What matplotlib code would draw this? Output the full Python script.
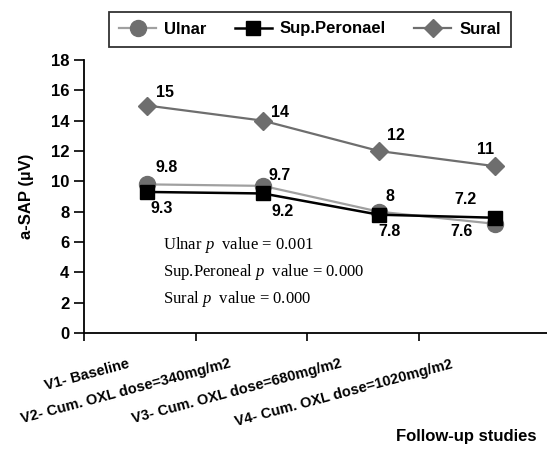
import numpy as np
import matplotlib.pyplot as plt

# data
visits = ['V1- Baseline', 'V2- Cum. OXL dose=340mg/m2',
          'V3- Cum. OXL dose=680mg/m2', 'V4- Cum. OXL dose=1020mg/m2']
ulnar = [9.8, 9.7, 8, 7.2]
sup_peronael = [9.3, 9.2, 7.8, 7.6]
sural = [15, 14, 12, 11]

# label offsets in pixels (dx, dy)
ulnar_off = [(20, 17), (17, 10), (11, 15), (-29, 24)]
sup_off = [(15, -17), (20, -18), (11, -17), (-33, -14)]
sural_off = [(18, 13), (17, 8), (17, 15), (-9, 17)]
# where the rotated tick labels end (data units)
label_pos = [-0.15, 0.72, 1.68, 2.63]

plt.rcParams['font.family'] = ['Liberation Sans', 'DejaVu Sans']
plt.rcParams['mathtext.fontset'] = 'custom'
plt.rcParams['mathtext.it'] = 'Liberation Serif:italic'
plt.rcParams['mathtext.rm'] = 'Liberation Serif'

fig = plt.figure(figsize=(5.47, 4.5), dpi=100)
ax = fig.add_axes([84/547, 1-333/450, 1-84/547, (333-60)/450])

x = np.arange(len(visits))
l1, = ax.plot(x, ulnar, color='#a0a0a0', lw=1.6, marker='o', ms=11.5,
              mfc='#6e6e6e', mec='#6e6e6e', zorder=3)
l2, = ax.plot(x, sup_peronael, color='black', lw=1.8, marker='s', ms=10.5,
              zorder=4)
l3, = ax.plot(x, sural, color='#6e6e6e', lw=1.6, marker='D', ms=9.5,
              mfc='#6e6e6e', mec='#6e6e6e', zorder=3)

for vals, offs in [(ulnar, ulnar_off), (sup_peronael, sup_off), (sural, sural_off)]:
    for xi, v, (dx, dy) in zip(x, vals, offs):
        ax.annotate(f'{v:g}', (xi, v), xytext=(dx, dy), textcoords='offset pixels',
                    ha='center', va='center', fontsize=11.5, fontweight='bold')

ax.set_xlim(-0.543, 3.45)
ax.set_ylim(0, 18)
ax.set_yticks(np.arange(0, 19, 2))
ax.tick_params(axis='y', labelsize=12, length=7, width=1.2, direction='out')
for t in ax.get_yticklabels():
    t.set_fontweight('bold')

ax.set_xticks(np.arange(4) * 0.962 - 0.543, minor=True)
ax.tick_params(axis='x', which='minor', length=6, width=1.2, direction='out')
ax.set_xticks(label_pos)
ax.set_xticklabels(visits, rotation=15, ha='right', rotation_mode='anchor',
                   fontsize=10.5, fontweight='bold')
ax.tick_params(axis='x', which='major', length=0, pad=22)
for t in ax.get_xticklabels():
    t.set_va('center')

for s in ['top', 'right']:
    ax.spines[s].set_visible(False)
for s in ['left', 'bottom']:
    ax.spines[s].set_linewidth(1.3)

ax.set_ylabel('a-SAP (µV)', fontsize=12, fontweight='bold', labelpad=12)
fig.text(537/547, 1-437/450, 'Follow-up studies', ha='right', va='center',
         fontsize=12, fontweight='bold')

serif = ['Liberation Serif', 'DejaVu Serif']
ptexts = [('Ulnar', '0.001'), ('Sup.Peroneal', '0.000'), ('Sural', '0.000')]
for i, (name, p) in enumerate(ptexts):
    fig.text(163/547, 1-(245+27*i)/450,
             name + r' $\mathit{p}$  value = ' + p,
             fontsize=12, family=serif, va='center')

leg = fig.legend([l1, l2, l3], ['Ulnar', 'Sup.Peronael', 'Sural'],
                 loc='center', bbox_to_anchor=(0.567, 1-29/450), ncol=3,
                 frameon=True, fancybox=False, edgecolor='black',
                 prop={'size': 12, 'weight': 'bold'}, handlelength=2.2,
                 columnspacing=1.7, handletextpad=0.5, borderpad=0.6)
leg.get_frame().set_linewidth(1.3)

fig.savefig('out.png', dpi=100)
